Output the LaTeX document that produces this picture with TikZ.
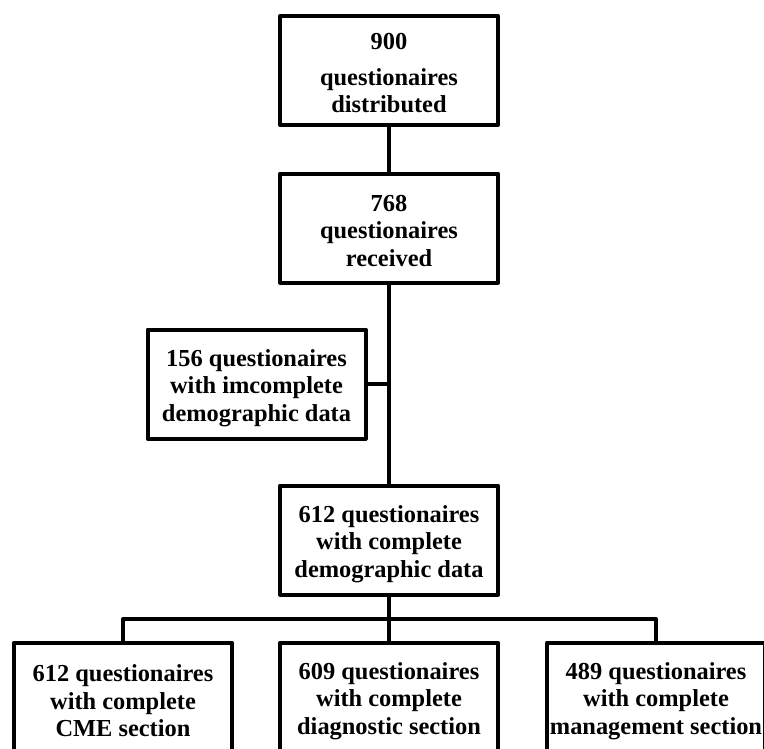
\documentclass[tikz,border=0pt]{standalone}
\usepackage{fontspec}
\setmainfont{Liberation Serif}
\begin{document}
\begin{tikzpicture}[x=1pt,y=-1pt,
  box/.style={draw, line width=4pt, line join=round, minimum width=218pt, minimum height=109pt,
    inner sep=0pt},
  txt/.style={inner sep=0pt, align=center, yshift=-4pt, font=\fontsize{24.4}{27.5}\selectfont\bfseries},
  conn/.style={line width=4pt, line join=round}]
\useasboundingbox (0,0) rectangle (764,748);
\clip (0,0) rectangle (764,748);
\node[box, label={[txt, yshift=1pt]center:{900\\[8pt]questionaires\\distributed}}] (dist) at (389,70.5) {};
\node[box, label={[txt, yshift=1.5pt]center:{768\\questionaires\\received}}] (recv) at (389,228) {};
\node[box, label={[txt]center:{156 questionaires\\with imcomplete\\demographic data}}] (inc) at (256.5,384) {};
\node[box, label={[txt]center:{612 questionaires\\with complete\\demographic data}}] (comp) at (389,540) {};
\node[box, label={[txt]center:{612 questionaires\\with complete\\CME section}}] (cme) at (123,697) {};
\node[box, label={[txt]center:{609 questionaires\\with complete\\diagnostic section}}] (diag) at (389,697) {};
\node[box, label={[txt]center:{489 questionaires\\with complete\\management section}}] (mgmt) at (656,697) {};
\coordinate (junc) at (recv.south |- inc.east);
\coordinate (bar) at (389,619);
\draw[conn] (dist) -- (recv);
\draw[conn] (recv) -- (comp);
\draw[conn] (inc.east) -- (junc);
\draw[conn] (comp.south) -- (bar);
\draw[conn] (cme.north) |- (bar) -| (mgmt.north);
\draw[conn] (bar) -- (diag.north);
\end{tikzpicture}
\end{document}
